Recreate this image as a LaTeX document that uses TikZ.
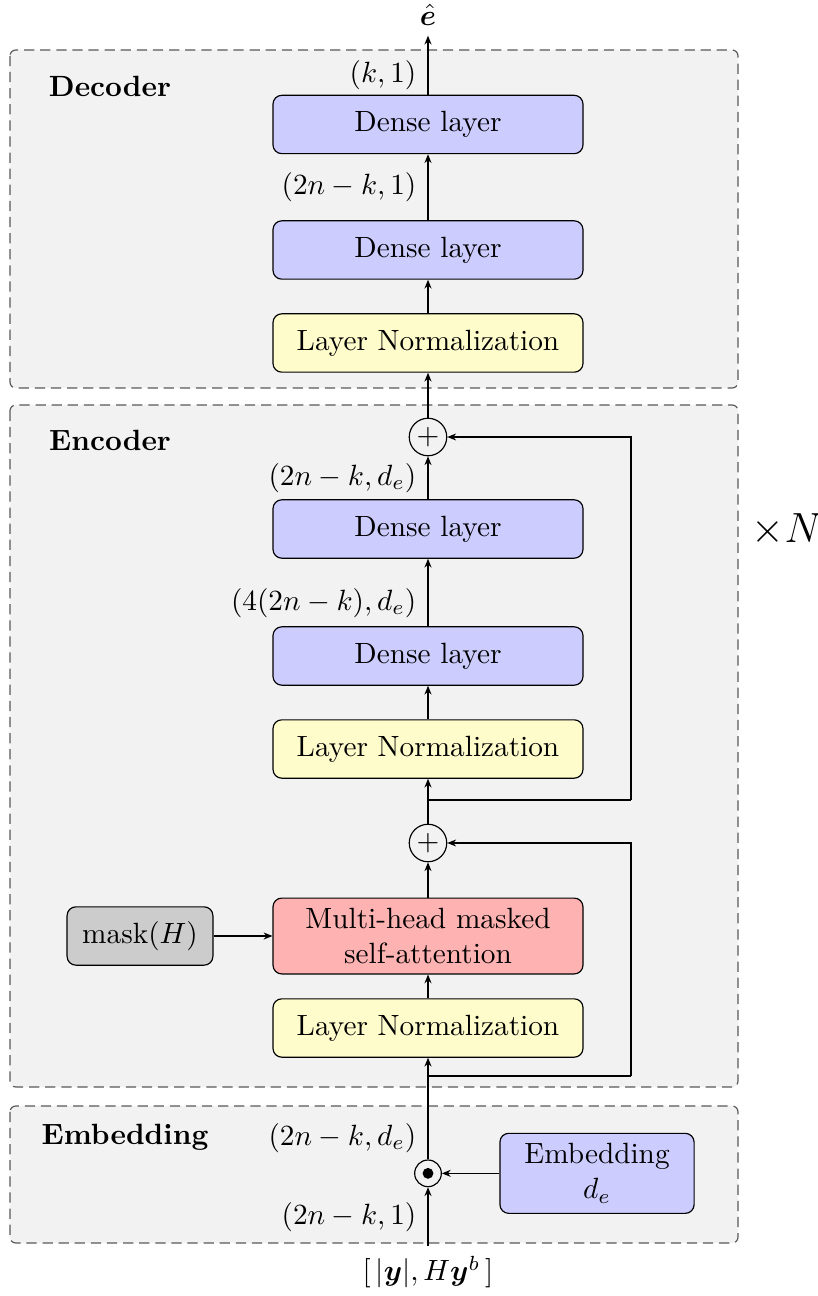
\documentclass[tikz,border=0pt]{standalone}
\usepackage{amsmath,bm}
\usetikzlibrary{arrows.meta}

\begin{document}
\begin{tikzpicture}[
  box/.style={draw, rounded corners=3pt,
              minimum width=3.72cm, minimum height=0.7cm,
              align=center},
  dense/.style={box, fill=blue!20},
  norm/.style={box, fill=yellow!20},
  attn/.style={box, fill=red!30, minimum height=0.91cm, inner ysep=1pt},
  maskbox/.style={box, fill=gray!40, minimum width=1.75cm},
  embbox/.style={box, fill=blue!20, minimum width=2.33cm,
                 minimum height=0.96cm, inner ysep=1pt},
  region/.style={draw=black!65, dash pattern=on 3.5pt off 2pt,
                 fill=gray!10, rounded corners=2pt},
  add/.style={circle, draw, inner sep=0pt, minimum size=0.45cm},
  mult/.style={circle, draw, inner sep=0pt, minimum size=0.32cm,
               path picture={\fill (path picture bounding box.center) circle (0.065cm);}},
  arr/.style={-{Stealth[length=3pt,width=2.4pt]}},
  title/.style={font=\bfseries},
  dim/.style={anchor=east}
]
  \useasboundingbox (0,0) rectangle (9.804,-15.552);

  % background blocks
  \draw[region] (0.12,-0.6)    rectangle (8.856,-4.656);
  \draw[region] (0.12,-4.86)   rectangle (8.856,-13.044);
  \draw[region] (0.12,-13.272) rectangle (8.856,-14.916);

  \node[title] at (1.32,-1.032)  {Decoder};
  \node[title] at (1.32,-5.29)   {Encoder};
  \node[title] at (1.5,-13.644)  {Embedding};
  \node[font=\Large] (times) at (9.444,-6.36) {$\times N$};

  % decoder
  \node (ehat) at (5.136,-0.18) {$\hat{\bm{e}}$};
  \node[dense] (dd1) at (5.136,-1.494) {Dense layer};
  \node[dense] (dd2) at (5.136,-3.0)   {Dense layer};
  \node[norm]  (dln) at (5.136,-4.116) {Layer Normalization};
  \draw[arr] (dln)--(dd2); \draw[arr] (dd2)--(dd1); \draw[arr] (dd1)--(ehat);
  \node[dim] at (5.12,-0.9)   {$(k,1)$};
  \node[dim] at (5.12,-2.244) {$(2n-k,1)$};

  % encoder
  \node[add]   (p1)  at (5.136,-5.244)  {$+$};
  \node[dense] (ed1) at (5.136,-6.348)  {Dense layer};
  \node[dense] (ed2) at (5.136,-7.872)  {Dense layer};
  \node[norm]  (eln1) at (5.136,-8.988) {Layer Normalization};
  \coordinate  (b1)  at (5.136,-9.6);
  \coordinate  (r1)  at (7.572,-9.6);
  \node[add]   (p2)  at (5.136,-10.116) {$+$};
  \node[attn]  (mha) at (5.136,-11.232) {Multi-head masked\\self-attention};
  \node[maskbox] (mask) at (1.68,-11.232) {mask$(H)$};
  \node[norm]  (eln2) at (5.136,-12.336) {Layer Normalization};
  \coordinate  (b2)  at (5.136,-12.912);
  \coordinate  (r2)  at (7.572,-12.912);
  \draw[arr] (p1)--(dln);
  \draw[arr] (ed1)--(p1); \draw[arr] (ed2)--(ed1); \draw[arr] (eln1)--(ed2);
  \draw[arr] (p2)--(eln1);
  \draw (b1)--(r1); \draw[arr] (r1) |- (p1);
  \draw[arr] (mha)--(p2); \draw[arr] (eln2)--(mha);
  \draw[arr] (mask)--(mha);
  \draw (b2)--(r2); \draw[arr] (r2) |- (p2);
  \node[dim] at (5.12,-5.736) {$(2n-k,d_e)$};
  \node[dim] at (5.12,-7.236) {$(4(2n-k),d_e)$};

  % embedding
  \node[mult]   (dot) at (5.136,-14.08) {};
  \node[embbox] (emb) at (7.164,-14.08) {Embedding\\$d_e$};
  \node (input) at (5.136,-15.264) {$[\,|\bm{y}|,H\bm{y}^b\,]$};
  \draw[arr] (dot)--(eln2);
  \draw[arr] (emb)--(dot);
  \draw[arr] (input)--(dot);
  \node[dim] at (5.12,-13.656) {$(2n-k,d_e)$};
  \node[dim] at (5.12,-14.604) {$(2n-k,1)$};
\end{tikzpicture}
\end{document}
